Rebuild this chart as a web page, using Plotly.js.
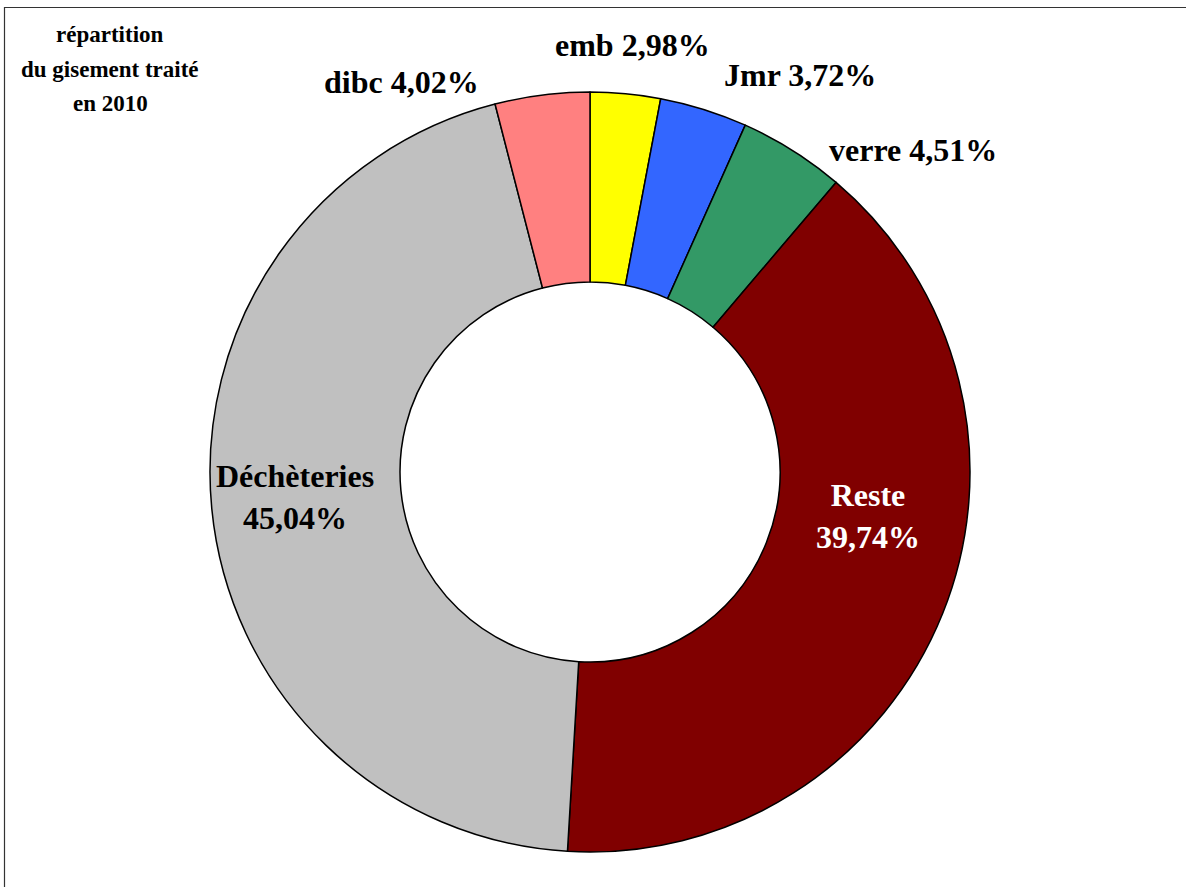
<!DOCTYPE html>
<html>
<head>
<meta charset="utf-8">
<script src="https://cdn.plot.ly/plotly-3.0.1.min.js"></script>
<style>html,body{margin:0;padding:0;background:#fff;}#chart{width:1186px;height:887px;}</style>
</head>
<body>
<div id="chart"></div>
<script>
var categories = ["emb", "Jmr", "verre", "Reste", "Déchèteries", "dibc"];
var shares = [2.98, 3.72, 4.51, 39.74, 45.04, 4.02];
var sliceColors = ["#FFFF00", "#3366FF", "#339966", "#800000", "#C0C0C0", "#FF8080"];
var titleLines = ["répartition", "du gisement traité", "en 2010"];

// label layout (pixel positions in the 1186x887 frame) and style
var labelPos = [
  {x: 632, y: 45, br: false, color: "#000"},
  {x: 800, y: 75, br: false, color: "#000"},
  {x: 913, y: 150, br: false, color: "#000"},
  {x: 868, y: 516, br: true, color: "#fff"},
  {x: 295, y: 497, br: true, color: "#000"},
  {x: 401, y: 82, br: false, color: "#000"}
];
var W = 1186, H = 887;
var FONT = "Liberation Serif, Times New Roman, serif";

function fmt(v) { return v.toFixed(2).replace(".", ",") + "%"; }

var annotations = [];
categories.forEach(function (c, i) {
  var p = labelPos[i];
  annotations.push({
    xref: "paper", yref: "paper",
    x: p.x / W, y: 1 - p.y / H,
    xanchor: "center", yanchor: "middle",
    showarrow: false,
    text: "<b>" + c + (p.br ? "<br>" : " ") + fmt(shares[i]) + "</b>",
    font: {family: FONT, size: 32, color: p.color}
  });
});
var titleY = [35, 69, 104];
titleLines.forEach(function (t, i) {
  annotations.push({
    xref: "paper", yref: "paper",
    x: 110 / W, y: 1 - titleY[i] / H,
    xanchor: "center", yanchor: "middle",
    showarrow: false,
    text: "<b>" + t + "</b>",
    font: {family: FONT, size: 23, color: "#000"}
  });
});

var cx = 590, cy = 472, r = 380;
var trace = {
  type: "pie",
  labels: categories,
  values: shares,
  sort: false,
  direction: "clockwise",
  rotation: 0,
  hole: 0.5,
  textinfo: "none",
  hoverinfo: "label+percent",
  marker: {colors: sliceColors, line: {color: "#000", width: 1.5}},
  domain: {x: [(cx - r) / W, (cx + r) / W], y: [1 - (cy + r) / H, 1 - (cy - r) / H]}
};

var layout = {
  width: W, height: H,
  margin: {l: 0, r: 0, t: 0, b: 0},
  paper_bgcolor: "#fff",
  showlegend: false,
  annotations: annotations,
  shapes: [{
    type: "rect", xref: "paper", yref: "paper",
    x0: 4.5 / W, x1: 1.05, y0: -0.05, y1: 1 - 7.5 / H,
    line: {color: "#333", width: 1.2}, fillcolor: "rgba(0,0,0,0)"
  }]
};

Plotly.newPlot("chart", [trace], layout, {displayModeBar: false, staticPlot: true});
</script>
</body>
</html>
